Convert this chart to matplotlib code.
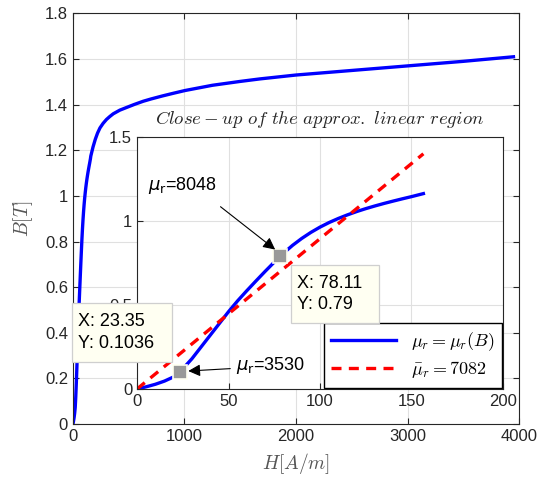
import matplotlib
matplotlib.use("Agg")
import matplotlib.pyplot as plt
from matplotlib.patches import Rectangle

plt.rcParams['font.family'] = ['Liberation Sans', 'DejaVu Sans']
plt.rcParams['mathtext.fontset'] = 'cm'

# B-H curve, low field part (shown in the close-up)
H_lin = [0, 5, 10, 15, 20, 23.35, 25, 27.5, 30, 32.5, 35, 37.5, 40, 42.5, 45,
         47.5, 50, 55, 60, 65, 70, 75, 78.11, 80, 85, 90, 95, 100, 105, 110,
         115, 120, 125, 130, 135, 140, 145, 150, 156.5]
B_lin = [0, 0.013, 0.028, 0.047, 0.072, 0.1036, 0.12, 0.15, 0.18, 0.215, 0.25,
         0.285, 0.32, 0.355, 0.39, 0.425, 0.46, 0.525, 0.585, 0.643, 0.700,
         0.755, 0.788, 0.808, 0.855, 0.896, 0.932, 0.9635, 0.991, 1.015,
         1.0365, 1.056, 1.0735, 1.0895, 1.1045, 1.1185, 1.132, 1.145, 1.163]
# saturation part
H_sat = [160, 170, 180, 200, 220, 242, 270, 300, 330, 361, 420, 482, 550, 630,
         700, 800, 900, 1004, 1250, 1500, 1677, 2000, 2500, 3000, 3500, 3950]
B_sat = [1.175, 1.195, 1.215, 1.248, 1.275, 1.298, 1.318, 1.335, 1.348, 1.36,
         1.376, 1.388, 1.401, 1.415, 1.425, 1.438, 1.45, 1.462, 1.485, 1.502,
         1.513, 1.53, 1.55, 1.57, 1.59, 1.61]

# average permeability line
H_avg = [0, 156.5]
B_avg = [0, 1.40]

tip1 = (23.35, 0.1036)
tip2 = (78.11, 0.79)
mu_labels = ['=3530', '=8048']

gray = '#262626'
grid_c = '#e0e0e0'

fig = plt.figure(figsize=(5.39, 4.80), dpi=100)
ax = fig.add_axes([0.1354, 0.1167, 0.8276, 0.8553])
ax.plot(H_lin + H_sat, B_lin + B_sat, color='#0000ff', lw=2.4)
ax.set_xlim(0, 4000)
ax.set_ylim(0, 1.8)
ax.set_xticks([0, 1000, 2000, 3000, 4000])
ax.set_yticks([0, 0.2, 0.4, 0.6, 0.8, 1, 1.2, 1.4, 1.6, 1.8])
ax.set_yticklabels(['0', '0.2', '0.4', '0.6', '0.8', '1', '1.2', '1.4', '1.6', '1.8'])
ax.grid(True, color=grid_c, lw=0.8)
ax.set_axisbelow(True)
ax.tick_params(direction='in', top=True, right=True, labelsize=12,
               colors=gray, length=4)
for s in ax.spines.values():
    s.set_color(gray)
ax.set_xlabel(r'$H[A/m]$', fontsize=14, color='#555555', labelpad=5)
ax.set_ylabel(r'$B[T]$', fontsize=14, color='#555555', labelpad=7)

# close-up
ins = fig.add_axes([0.2542, 0.1896, 0.6790, 0.5250])
ins.plot(H_lin, B_lin, color='#0000ff', lw=2.4, label=r'$\mu_r=\mu_r(B)$')
ins.plot(H_avg, B_avg, color='#ff0000', lw=2.4, ls=(0, (3, 2.2)),
         label=r'$\bar{\mu}_r=7082$')
ins.set_xlim(0, 200)
ins.set_ylim(0, 1.5)
ins.set_xticks([0, 50, 100, 150, 200])
ins.set_yticks([0, 0.5, 1, 1.5])
ins.set_yticklabels(['0', '0.5', '1', '1.5'])
ins.grid(True, color=grid_c, lw=0.8)
ins.set_axisbelow(True)
ins.tick_params(direction='in', labelsize=12, colors=gray, length=4)
for s in ins.spines.values():
    s.set_color(gray)
ins.set_title(r'$Close-up\ of\ the\ approx.\ linear\ region$', fontsize=13.5,
              color=gray, pad=9)
leg = ins.legend(loc='lower right', fontsize=13, fancybox=False,
                 edgecolor='black', framealpha=1, borderaxespad=0.08,
                 handlelength=3.6, borderpad=0.4, labelspacing=0.35)
leg.get_frame().set_linewidth(1.0)

# data tips: marker + box
for (x, y) in [tip1, tip2]:
    ins.plot(x, y, 's', ms=10, mfc='#999999', mec='#fffff0', mew=1.2,
             zorder=6, clip_on=False)

boxes = [(-35.5, 0.161, 54.6, 0.351), (84.2, 0.393, 48.0, 0.345)]
texts = ['X: %.2f\nY: %.4f' % tip1, 'X: %.2f\nY: %.2f' % tip2]
for (bx, by, bw, bh), t in zip(boxes, texts):
    ins.add_patch(Rectangle((bx, by), bw, bh, fc='#fffff2', ec='#cfcfcf',
                            lw=0.9, zorder=7, clip_on=False))
    ins.text(bx + 3.3, by + bh / 2, t, fontsize=13, va='center', ha='left',
             zorder=8, linespacing=1.35, color='black')

ins.annotate(r'$\mu_{\mathrm{r}}$' + mu_labels[1], xy=(75.5, 0.83),
             xytext=(6, 1.21), fontsize=13, va='center', ha='left',
             math_fontfamily='dejavusans',
             arrowprops=dict(arrowstyle='-|>', color='black', lw=0.8,
                             mutation_scale=18, shrinkA=0, shrinkB=0,
                             relpos=(1.05, -0.5)),
             zorder=9)
ins.annotate(r'$\mu_{\mathrm{r}}$' + mu_labels[0], xy=(28, 0.107),
             xytext=(54, 0.14), fontsize=13, va='center', ha='left',
             math_fontfamily='dejavusans',
             arrowprops=dict(arrowstyle='-|>', color='black', lw=0.8,
                             mutation_scale=18, shrinkA=0, shrinkB=0,
                             relpos=(-0.08, 0.35)),
             zorder=9)

fig.savefig('out.png', dpi=100)
